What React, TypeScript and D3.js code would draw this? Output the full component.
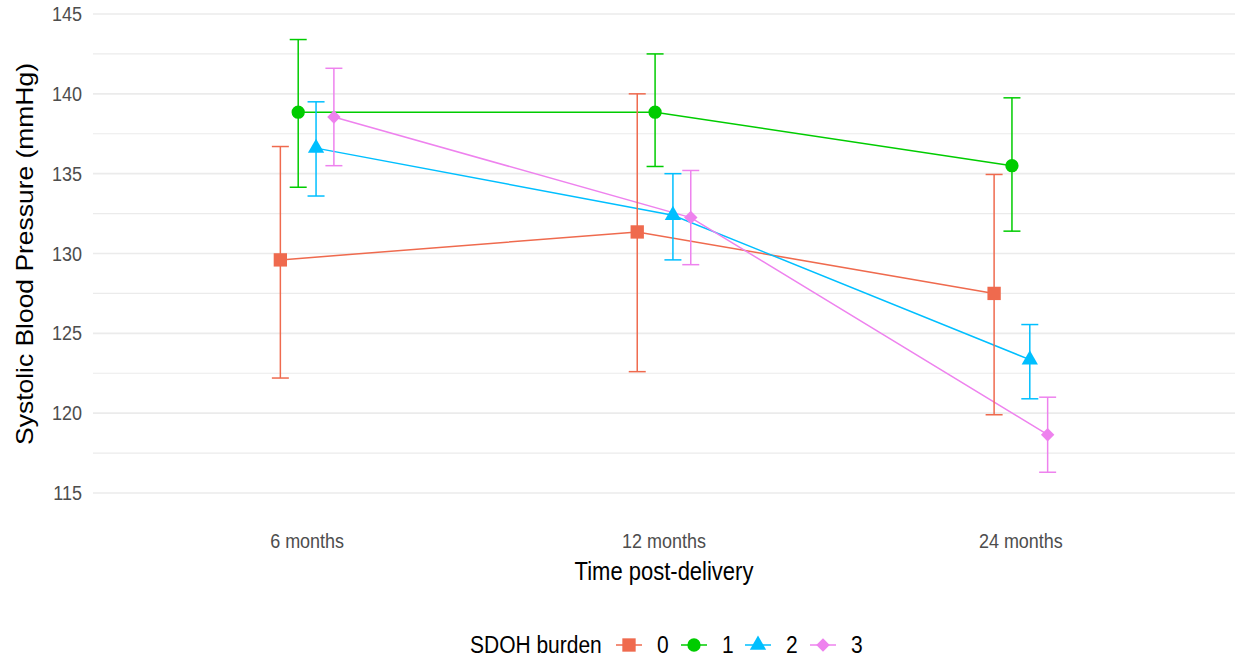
import React, { useEffect } from "react";
import * as d3 from "d3";

const timepoints = ["6 months", "12 months", "24 months"];
const groups = ["0", "1", "2", "3"];
const colors = ["#EF6A4E", "#00CC00", "#00BFFF", "#EE82EE"];

// mean SBP and 95% CI per SDOH burden group
const mean0 = [129.6, 131.35, 127.5];
const lower0 = [122.2, 122.6, 119.9];
const upper0 = [136.7, 140.0, 134.95];
const mean1 = [138.85, 138.85, 135.5];
const lower1 = [134.15, 135.45, 131.4];
const upper1 = [143.4, 142.5, 139.75];
const mean2 = [136.6, 132.4, 123.35];
const lower2 = [133.6, 129.6, 120.9];
const upper2 = [139.5, 135.0, 125.55];
const mean3 = [138.55, 132.25, 118.65];
const lower3 = [135.5, 129.3, 116.3];
const upper3 = [141.6, 135.2, 121.0];

const yTicks = [115, 120, 125, 130, 135, 140, 145];
const yMinor = [117.5, 122.5, 127.5, 132.5, 137.5, 142.5];

const means = [mean0, mean1, mean2, mean3];
const lowers = [lower0, lower1, lower2, lower3];
const uppers = [upper0, upper1, upper2, upper3];

const W = 1238;
const H = 664;
const font = "'Liberation Sans', Arial, sans-serif";
const stretch = 1.15;

const symbols = [
  d3.symbol().type(d3.symbolSquare).size(178),
  d3.symbol().type(d3.symbolCircle).size(139),
  d3.symbol().type(d3.symbolTriangle).size(115),
  d3.symbol().type(d3.symbolSquare).size(90),
];
const symbolRotate = [0, 0, 0, 45];

export default function App() {
  useEffect(() => {
    document.body.style.margin = "0";
  }, []);

  const x = d3.scalePoint<string>().domain(timepoints).range([93, 1235]).padding(0.6);
  const y = d3.scaleLinear().domain([115, 145]).range([493, 14]);
  const dodge = x.step() * 0.05;
  const xd = (t: string, g: number) => (x(t) as number) + (g - 1.5) * dodge;

  const line = d3
    .line<number>()
    .x((_, i) => 0)
    .y((v) => y(v));

  const legendKeys = [629, 694, 758, 823];

  return (
    <svg width={W} height={H} style={{ display: "block", background: "#fff" }}>
      {yMinor.map((v) => (
        <line key={"m" + v} x1={93} x2={1235} y1={y(v)} y2={y(v)} stroke="#EBEBEB" strokeWidth={1.2} />
      ))}
      {yTicks.map((v) => (
        <line key={"g" + v} x1={93} x2={1235} y1={y(v)} y2={y(v)} stroke="#EBEBEB" strokeWidth={1.6} />
      ))}
      {yTicks.map((v) => (
        <text
          key={"t" + v}
          transform={`translate(82,${y(v) + 7}) scale(1,${stretch})`}
          textAnchor="end"
          fontFamily={font}
          fontSize={18}
          fill="#4D4D4D"
        >
          {v}
        </text>
      ))}
      {timepoints.map((t) => (
        <text
          key={t}
          transform={`translate(${x(t)},${548}) scale(1,${stretch})`}
          textAnchor="middle"
          fontFamily={font}
          fontSize={18}
          fill="#4D4D4D"
        >
          {t}
        </text>
      ))}
      <text
        transform={`translate(664,580) scale(1,${stretch})`}
        textAnchor="middle"
        fontFamily={font}
        fontSize={22}
        fill="#000"
      >
        Time post-delivery
      </text>
      <text
        transform={`translate(33,254) scale(1,${stretch}) rotate(-90)`}
        textAnchor="middle"
        fontFamily={font}
        fontSize={23}
        fill="#000"
      >
        Systolic Blood Pressure (mmHg)
      </text>

      {groups.map((g, gi) => {
        const pts = timepoints.map((t, ti) => [xd(t, gi), y(means[gi][ti])] as [number, number]);
        return (
          <g key={"s" + g}>
            <path d={d3.line()(pts) || ""} fill="none" stroke={colors[gi]} strokeWidth={1.5} />
          </g>
        );
      })}
      {groups.map((g, gi) => (
        <g key={"e" + g} stroke={colors[gi]} strokeWidth={1.5}>
          {timepoints.map((t, ti) => {
            const cx = xd(t, gi);
            return (
              <g key={t}>
                <line x1={cx} x2={cx} y1={y(lowers[gi][ti])} y2={y(uppers[gi][ti])} />
                <line x1={cx - 8.5} x2={cx + 8.5} y1={y(lowers[gi][ti])} y2={y(lowers[gi][ti])} />
                <line x1={cx - 8.5} x2={cx + 8.5} y1={y(uppers[gi][ti])} y2={y(uppers[gi][ti])} />
              </g>
            );
          })}
        </g>
      ))}
      {groups.map((g, gi) => (
        <g key={"p" + g} fill={colors[gi]}>
          {timepoints.map((t, ti) => (
            <path
              key={t}
              d={symbols[gi]() || ""}
              transform={`translate(${xd(t, gi)},${y(means[gi][ti])}) rotate(${symbolRotate[gi]})`}
            />
          ))}
        </g>
      ))}

      <text
        transform={`translate(470,653) scale(1,${stretch})`}
        fontFamily={font}
        fontSize={21}
        fill="#000"
      >
        SDOH burden
      </text>
      {groups.map((g, gi) => (
        <g key={"l" + g} transform={`translate(${legendKeys[gi]},645)`}>
          <line x1={-13} x2={13} y1={0} y2={0} stroke={colors[gi]} strokeWidth={1.5} />
          <path d={symbols[gi]() || ""} fill={colors[gi]} transform={`rotate(${symbolRotate[gi]})`} />
          <text
            transform={`translate(${28},8) scale(1,${stretch})`}
            fontFamily={font}
            fontSize={21}
            fill="#000"
          >
            {g}
          </text>
        </g>
      ))}
    </svg>
  );
}
